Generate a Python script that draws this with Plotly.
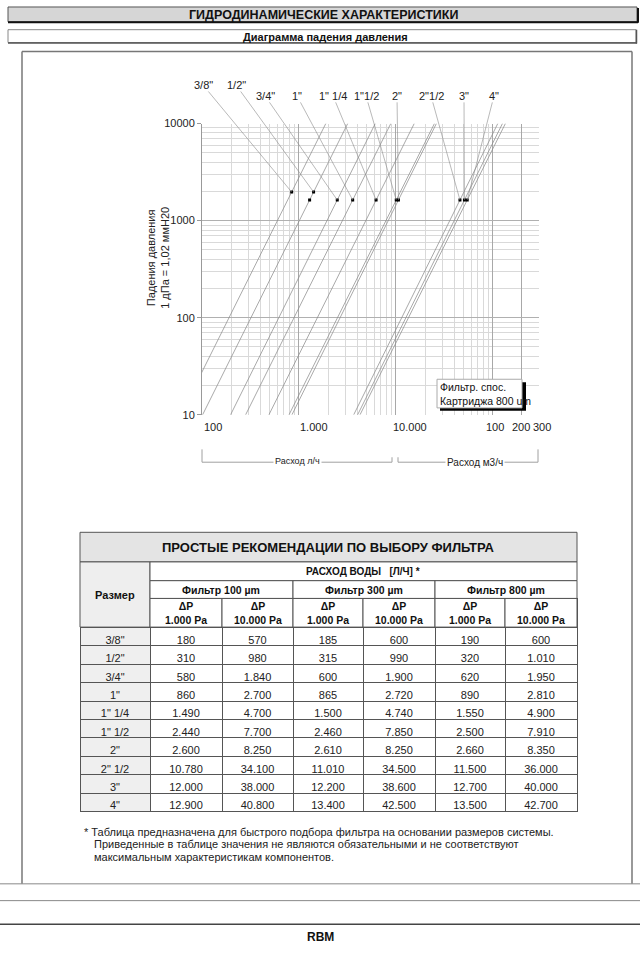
import math
import plotly.graph_objects as go

W, H = 640, 956

# ---------------- data ----------------
sizes = ['3/8"', '1/2"', '3/4"', '1"', '1" 1/4', '1" 1/2', '2"', '2" 1/2', '3"', '4"']
chart_labels = ['3/8"', '1/2"', '3/4"', '1"', '1" 1/4', '1"1/2', '2"', '2"1/2', '3"', '4"']
f100_1000 = [180, 310, 580, 860, 1490, 2440, 2600, 10780, 12000, 12900]
f100_10000 = [570, 980, 1840, 2700, 4700, 7700, 8250, 34100, 38000, 40800]
f300_1000 = [185, 315, 600, 865, 1500, 2460, 2610, 11010, 12200, 13400]
f300_10000 = [600, 990, 1900, 2720, 4740, 7850, 8250, 34500, 38600, 42500]
f800_1000 = [190, 320, 620, 890, 1550, 2500, 2660, 11500, 12700, 13500]
f800_10000 = [600, 1010, 1950, 2810, 4900, 7910, 8350, 36000, 40000, 42700]

# marked points on the curves (size index, pressure drop in daPa)
dot_idx = [0, 1, 1, 2, 3, 4, 5, 6, 7, 8, 9]
dot_dp = [1970, 1970, 1630, 1630, 1630, 1630, 1630, 1630, 1630, 1630, 1630]
# which dot each size label points to
label_dot = [0, 1, 3, 4, 5, 6, 7, 8, 9, 10]

x_tick_vals = [100, 1000, 10000, 100000, 200000, 300000]
x_tick_text = ['100', '1.000', '10.000', '100', '200', '300']
y_tick_vals = [10, 100, 1000, 10000]
y_tick_text = ['10', '100', '1000', '10000']

# ---------------- layout helpers ----------------
FONT = "Liberation Sans, Arial, sans-serif"
X0, X1 = 202, 539      # plot area pixels
YT, YB = 119, 414
XMIN, XMAX = 100, 300000
YMIN, YMAX = 10, 10000


def px(x):
    return x / W


def py(y):
    return 1 - y / H


def lx(pxv):  # pixel -> log10 x (for annotation tails)
    return math.log10(XMIN) + (pxv - X0) / (X1 - X0) * (math.log10(XMAX) - math.log10(XMIN))


def ly(pyv):
    return math.log10(YMIN) + (YB - pyv) / (YB - YT) * (math.log10(YMAX) - math.log10(YMIN))


def flow(i, dp):
    q1, q2 = f800_1000[i], f800_10000[i]
    k = math.log10(q2 / q1)
    return q1 * (dp / 100.0) ** k


annotations = []
shapes = []


def txt(x, y, t, size, xa='center', ya='middle', color='#111', **kw):
    d = dict(x=px(x), y=py(y), xref='paper', yref='paper', text=t, showarrow=False,
             xanchor=xa, yanchor=ya, font=dict(family=FONT, size=size, color=color))
    d.update(kw)
    annotations.append(d)


def line(a, b, c, d, col, w, layer='below'):
    shapes.append(dict(type='line', xref='paper', yref='paper', x0=px(a), y0=py(b), x1=px(c),
                       y1=py(d), line=dict(color=col, width=w), layer=layer))


def rect(a, b, c, d, fill, col, w, layer='below'):
    shapes.append(dict(type='rect', xref='paper', yref='paper', x0=px(a), y0=py(d), x1=px(c),
                       y1=py(b), fillcolor=fill, line=dict(color=col, width=w), layer=layer))


fig = go.Figure()

# curves
for i, s in enumerate(sizes):
    fig.add_trace(go.Scatter(
        x=[flow(i, YMIN), flow(i, YMAX)], y=[YMIN, YMAX], mode='lines',
        line=dict(color='#8c8c8c', width=0.75), showlegend=False, hoverinfo='skip',
        xaxis='x', yaxis='y'))

# dots
fig.add_trace(go.Scatter(
    x=[flow(i, d) for i, d in zip(dot_idx, dot_dp)], y=dot_dp, mode='markers',
    marker=dict(symbol='square', size=3, color='black'), showlegend=False,
    hoverinfo='skip', xaxis='x', yaxis='y'))

minor_x = [m * 10 ** e for e in range(2, 6) for m in range(2, 10) if m * 10 ** e < XMAX]
minor_y = [m * 10 ** e for e in range(1, 4) for m in range(2, 10)]

# size labels with leader lines
label_pos = [(203, 80), (236, 80), (265, 91), (297, 91), (333, 91), (366, 91),
             (397, 91), (431, 91), (464, 91), (494, 91)]
for lab, (lpx, lpy), di in zip(chart_labels, label_pos, label_dot):
    i = dot_idx[di]
    annotations.append(dict(
        x=math.log10(flow(i, dot_dp[di])), y=math.log10(dot_dp[di]), xref='x', yref='y',
        ax=lx(lpx), ay=ly(lpy), axref='x', ayref='y', text=lab, showarrow=True,
        arrowhead=0, arrowwidth=0.6, arrowcolor='#8a8a8a', standoff=0, borderpad=0,
        font=dict(family=FONT, size=11, color='#222')))

# x tick labels
x_anchor = ['left', 'left', 'left', 'center', 'center', 'center']
x_shift = [0, -1, -5, 2, -1, 3]
for v, t, a, s in zip(x_tick_vals, x_tick_text, x_anchor, x_shift):
    annotations.append(dict(x=math.log10(v), y=py(418), xref='x', yref='paper', text=t,
                            showarrow=False, xanchor=a, yanchor='top', xshift=s,
                            font=dict(family=FONT, size=11, color='#222')))

# y axis title
txt(158, 255, 'Падения давления<br>1 дПа = 1,02 ммH20', 11, color='#222', textangle=-90)

# flow unit bracket
br = '#a0a0a0'
for (a, b, c, d) in [(202, 449, 202, 462), (202, 462, 392, 462), (392, 457, 392, 462),
                     (398, 457, 398, 462), (398, 462, 538, 462), (538, 449, 538, 462)]:
    line(a, b, c, d, br, 1)
txt(297, 461, 'Расход л/ч', 9, color='#222', bgcolor='white', borderpad=1)
txt(475, 462, 'Расход м3/ч', 10, color='#222', bgcolor='white', borderpad=1)

# cartridge box
rect(440, 381, 526, 410, 'black', 'black', 0, layer='above')
rect(437, 378, 522, 407, 'white', '#aaa', 1, layer='above')
txt(438, 393, 'Фильтр. спос.<br>Картриджа 800 um', 10.5, xa='left', align='left')

# ---------------- page frames ----------------
rect(8, 1, 637, 16, '#d6d6d6', '#555', 1)
line(8, 16.5, 638, 16.5, '#111', 2)
line(638, 2, 638, 17, '#111', 2)
txt(323, 9, '<b>ГИДРОДИНАМИЧЕСКИЕ ХАРАКТЕРИСТИКИ</b>', 12.5)
rect(8, 24, 636, 37, 'white', '#888', 1)
line(8, 37.5, 637, 37.5, '#555', 1.5)
line(636.5, 24, 636.5, 38, '#555', 1.5)
txt(325, 31, '<b>Диаграмма падения давления</b>', 11)
for (a, b, c, d, col, w) in [(22, 46, 632, 46, '#777', 1.5), (22, 46, 22, 889, '#777', 1.5),
                             (632, 46, 632, 889, '#777', 1.5), (0, 889, 640, 889, '#888', 1),
                             (0, 906, 640, 906, '#888', 1), (0, 930, 640, 930, '#444', 1.5)]:
    line(a, b, c, d, col, w)
txt(320, 943, '<b>RBM</b>', 12)

# ---------------- table ----------------
def fmt(v):
    return f"{v:,}".replace(',', '.')


TX0, TX1 = 80, 577
col_edges = [80, 150, 222, 293, 363, 435, 505, 577]
col_w = [col_edges[k + 1] - col_edges[k] for k in range(7)]
cols = [f100_1000, f100_10000, f300_1000, f300_10000, f800_1000, f800_10000]
cell_vals = [sizes] + [[fmt(v) for v in c] for c in cols]
cell_fill = [['#efefef'] * len(sizes)] + [['white'] * len(sizes)] * 6
fig.add_trace(go.Table(
    domain=dict(x=[px(TX0), px(TX1)], y=[py(840), py(600)]),
    columnwidth=col_w,
    header=dict(values=[''] * 7, height=29, align='center', line=dict(color='#555', width=1),
                fill=dict(color=['#eeeeee'] + ['white'] * 6),
                font=dict(family=FONT, size=10.5, color='#111')),
    cells=dict(values=cell_vals, height=18.4, align='center', line=dict(color='#555', width=1),
               fill=dict(color=cell_fill), font=dict(family=FONT, size=11, color='#222'))))

# merged header cells (drawn over the table header)
hdr_cells = [(80, 533, 577, 563, '#e4e4e4'), (80, 563, 150, 629, '#eeeeee'),
             (150, 563, 577, 582, 'white'), (150, 582, 293, 600, 'white'),
             (293, 582, 435, 600, 'white'), (435, 582, 577, 600, 'white')]
for k in range(1, 7):
    hdr_cells.append((col_edges[k], 600, col_edges[k + 1], 629, 'white'))
for (a, b, c, d, fc) in hdr_cells:
    rect(a, b, c, d, fc, '#555', 1, layer='above')
txt(328, 548, '<b>ПРОСТЫЕ РЕКОМЕНДАЦИИ ПО ВЫБОРУ ФИЛЬТРА</b>', 13)
txt(115, 596, '<b>Размер</b>', 11)
txt(363, 572.5, '<b>РАСХОД ВОДЫ   [Л/Ч] *</b>', 10)
txt(221, 591, '<b>Фильтр 100 µm</b>', 10.5)
txt(364, 591, '<b>Фильтр 300 µm</b>', 10.5)
txt(506, 591, '<b>Фильтр 800 µm</b>', 10.5)
dp_hdr = ['<b>ΔP<br>1.000 Pa</b>', '<b>ΔP<br>10.000 Pa</b>'] * 3
for k, t in enumerate(dp_hdr):
    cx = (col_edges[k + 1] + col_edges[k + 2]) / 2
    txt(cx, 614.5, t, 10.5)

# footnote
notes = [(82, 836, '* Таблица предназначена для быстрого подбора фильтра на основании размеров системы.'),
         (92, 849, 'Приведенные в таблице значения не являются обязательными и не соответствуют'),
         (92, 862, 'максимальным характеристикам компонентов.')]
for (a, b, t) in notes:
    txt(a, b, t, 11, xa='left', color='#222')

fig.update_layout(
    width=W, height=H, margin=dict(l=0, r=0, t=0, b=0),
    paper_bgcolor='white', plot_bgcolor='white', showlegend=False,
    xaxis=dict(type='log', range=[math.log10(XMIN), math.log10(XMAX)],
               domain=[px(X0), px(X1)], tickvals=x_tick_vals, showticklabels=False,
               showgrid=True, gridcolor='#a8a8a8', gridwidth=1, zeroline=False,
               showline=False, ticks='',
               minor=dict(tickvals=minor_x, showgrid=True, gridcolor='#d9d9d9',
                          gridwidth=0.8, ticks='')),
    yaxis=dict(type='log', range=[math.log10(YMIN), math.log10(YMAX)],
               domain=[py(YB), py(YT)], tickvals=y_tick_vals, ticktext=y_tick_text,
               showgrid=True, gridcolor='#b0b0b0', gridwidth=1, zeroline=False,
               showline=True, linecolor='#999', linewidth=1, ticks='outside', ticklen=4,
               tickcolor='#999', tickfont=dict(family=FONT, size=11, color='#222'),
               minor=dict(tickvals=minor_y, showgrid=True, gridcolor='#d9d9d9',
                          gridwidth=0.8, ticks='')),
    shapes=shapes, annotations=annotations,
)

fig.write_html("out.html", config={'displayModeBar': False},
               post_script="document.body.style.margin='0';document.body.style.overflow='hidden';")
